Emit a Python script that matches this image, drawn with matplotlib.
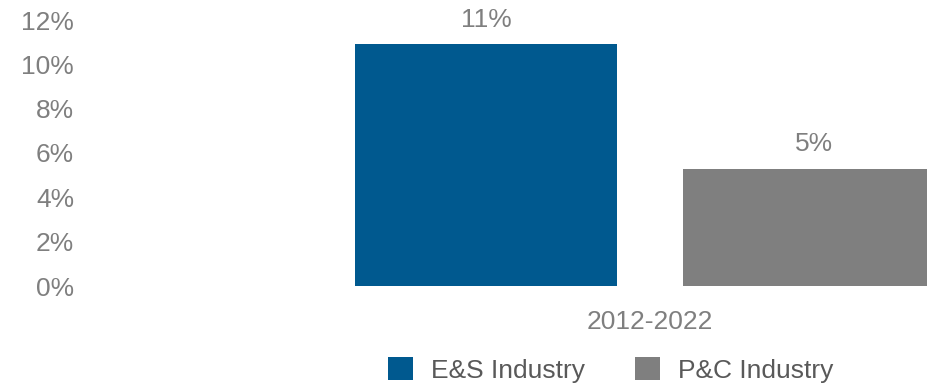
import matplotlib.pyplot as plt

# data
category = ["2012-2022"]
series = ["E&S Industry", "P&C Industry"]
values = [10.9, 5.3]
colors = ["#00598F", "#7F7F7F"]
yticks = [0, 2, 4, 6, 8, 10, 12]

text_color = "#7F7F7F"
plt.rcParams["font.family"] = ["Liberation Sans", "DejaVu Sans"]
plt.rcParams["font.size"] = 19

fig = plt.figure(figsize=(9.28, 3.86), dpi=100)
W, H = 928, 386
# axes runs off the right edge, like the original, so the grey bar is cut
ax = fig.add_axes([90 / W, 100 / H, (928 - 90) / W, 266 / H])

width = 0.4
offsets = [-0.25, 0.25]
for name, val, col, off in zip(series, values, colors, offsets):
    bars = ax.bar(off, val, width, color=col, label=name)
    ax.bar_label(bars, labels=[f"{val:.0f}%"], padding=9, color=text_color)

ax.set_xlim(-0.855, 0.424)
ax.set_ylim(0, 12)
ax.set_yticks(yticks)
ax.set_yticklabels([f"{t}%" for t in yticks], color=text_color)
ax.set_xticks([0])
ax.set_xticklabels(category, color=text_color)
ax.tick_params(axis="both", length=0)
ax.tick_params(axis="y", pad=11.5)
ax.tick_params(axis="x", pad=17)
for s in ax.spines.values():
    s.set_visible(False)

leg = fig.legend(loc="center", bbox_to_anchor=(611 / W, 16 / H), ncol=2,
                 frameon=False, handlelength=0.92, handleheight=0.92,
                 handletextpad=0.7, columnspacing=1.9, borderaxespad=0,
                 borderpad=0)
for t in leg.get_texts():
    t.set_color("#595959")

fig.savefig("out.png", dpi=100)
